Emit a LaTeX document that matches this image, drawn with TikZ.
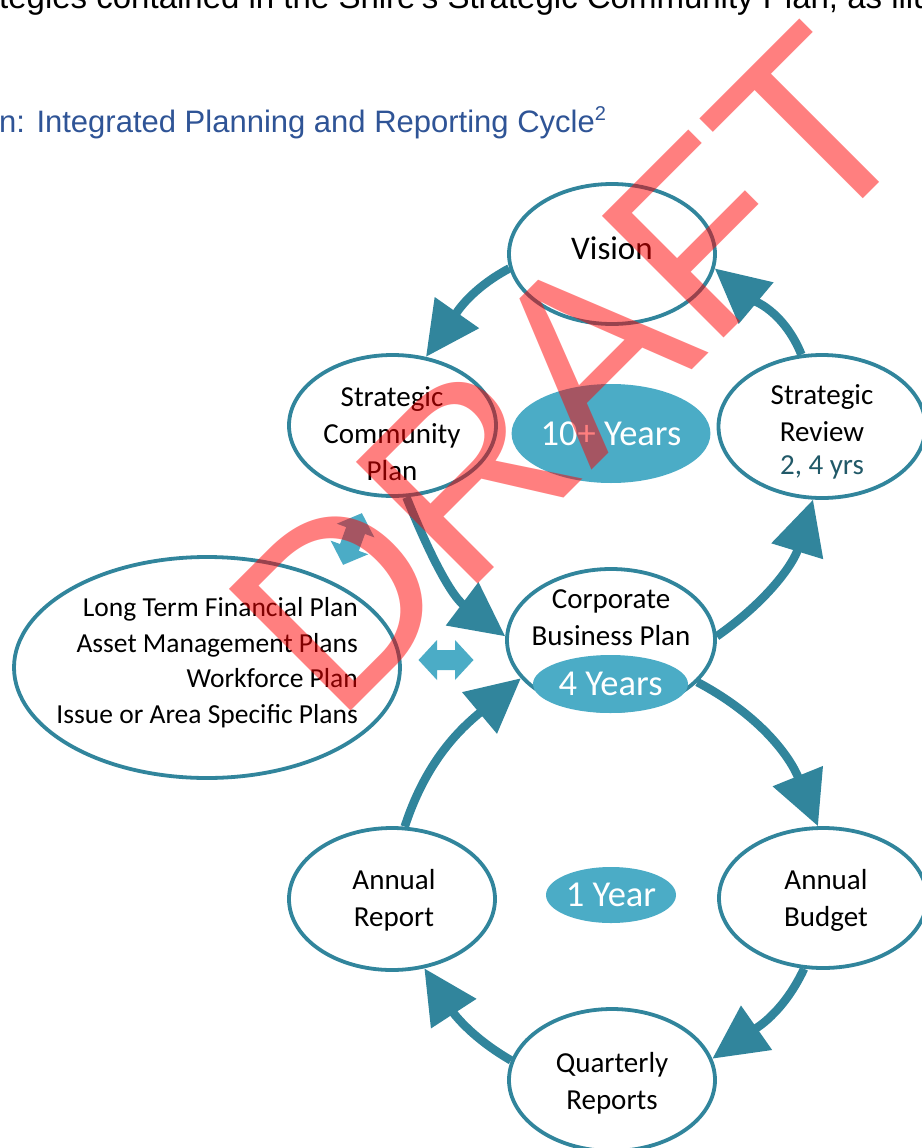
\documentclass[tikz,border=0pt]{standalone}
\usepackage{fontspec}
\setmainfont{Carlito}
\newfontfamily\arialfont{Liberation Sans}
\usetikzlibrary{shapes.geometric}
\usetikzlibrary{arrows.meta}

\definecolor{ringteal}{HTML}{31859C}
\definecolor{fillblue}{HTML}{4BACC6}
\definecolor{darkteal}{HTML}{215968}
\definecolor{headblue}{HTML}{2F5496}

\tikzset{
  ring/.style={ellipse, draw=ringteal, line width=3.8pt, fill=white, inner sep=0pt},
  blob/.style={ellipse, fill=fillblue, text=white, inner sep=0pt, font=\fontsize{36.5}{40}\selectfont},
  lbl/.style={align=center, inner sep=0pt, font=\fontsize{29}{37}\selectfont},
  cyc/.style={draw=ringteal, line width=8.5pt, -{Triangle[length=54pt,width=52pt]}},
}

% 双向小箭头 (以原点为中心, 沿 x 方向)
\newcommand{\twinarrow}{(-27.5,0) -- (-9,20) -- (-9,10) -- (9,10) -- (9,20) -- (27.5,0) -- (9,-20) -- (9,-10) -- (-9,-10) -- (-9,-20) -- cycle}

\begin{document}
\begin{tikzpicture}[x=1pt,y=1pt]
    \fill[white] (0,0) rectangle (921,-1148);
    \useasboundingbox (0,0) rectangle (921,-1148);

    % 正文与图题
    \node[anchor=base west, inner sep=0pt, font=\arialfont\fontsize{33}{40}\selectfont] (intro) at (-1,-9) {tegies contained in the Shire's Strategic Community Plan, as illu};
    \node[anchor=base west, inner sep=0pt, text=headblue, font=\arialfont\fontsize{31}{38}\selectfont] (title) at (-1,-132) {n: Integrated Planning and Reporting Cycle\raisebox{12pt}{\fontsize{20}{20}\selectfont 2}};

    % 椭圆
    \node[ring, minimum width=206pt, minimum height=140pt] (vis) at (612,-254) {};
    \node[ring, minimum width=207pt, minimum height=141pt] (scp) at (392.5,-425.5) {};
    \node[ring, minimum width=207pt, minimum height=143pt] (sr) at (822,-426.5) {};
    \node[ring, minimum width=386pt, minimum height=221pt] (lt) at (207,-667.5) {};
    \node[ring, minimum width=208pt, minimum height=142pt] (cbp) at (611,-640) {};
    \node[ring, minimum width=206pt, minimum height=142pt] (ar) at (392,-899) {};
    \node[ring, minimum width=208pt, minimum height=140pt] (ab) at (823,-898) {};
    \node[ring, minimum width=206pt, minimum height=142pt] (qr) at (612,-1080) {};

    \node[blob, minimum width=184pt, minimum height=99pt] (ten) at (611,-433.5) {10+ Years};
    \node[blob, minimum width=155pt, minimum height=58pt] (four) at (610.5,-684) {4 Years};
    \node[blob, minimum width=130pt, minimum height=56pt] (one) at (611,-895) {1 Year};

    % 文字
    \node[lbl, font=\fontsize{33}{37}\selectfont] (vis-t) at (612,-248) {Vision};
    \node[lbl] (scp-t) at (392,-434) {Strategic\\Community\\Plan};
    \node[lbl] (sr-t) at (822,-432) {Strategic\\Review\\[-4pt]\textcolor{darkteal}{2, 4 yrs}};
    \node[lbl, align=right, anchor=east, font=\fontsize{27.5}{35.5}\selectfont] (lt-t) at (358,-662.5) {Long Term Financial Plan\\Asset Management Plans\\Workforce Plan\\Issue or Area Specific Plans};
    \node[lbl] (cbp-t) at (611,-618) {Corporate\\Business Plan};
    \node[lbl] (ar-t) at (394,-900) {Annual\\Report};
    \node[lbl] (ab-t) at (826,-900) {Annual\\Budget};
    \node[lbl] (qr-t) at (612,-1083) {Quarterly\\Reports};

    % 双向小箭头
    \fill[fillblue, shift={(446,-660)}] \twinarrow;
    \fill[fillblue, shift={(352.5,-539)}, rotate=70] \twinarrow;

    % 循环箭头
    \draw[cyc] (vis.188) to[out=208, in=55] (scp.64);
    \draw[cyc] (sr.106) to[out=112, in=320] (vis.352);
    \draw[cyc] (scp.281) to[out=292, in=143] (cbp.178);
    \draw[cyc] (cbp.2) to[out=35, in=253] (sr.263);
    \draw[cyc] (cbp.334) to[out=-28, in=112] (ab.94);
    \draw[cyc] (ab.255) to[out=245, in=35] (qr.12);
    \draw[cyc] (qr.169) to[out=150, in=303] (ar.295);
    \draw[cyc] (ar.80) to[out=72, in=220] (cbp.203);

    % 水印
    \node[anchor=base west, inner sep=0pt, rotate=45, text=red, text opacity=0.5, font=\arialfont\fontsize{250}{250}\selectfont] (draft) at (336,-726) {DRAFT};
\end{tikzpicture}
\end{document}
